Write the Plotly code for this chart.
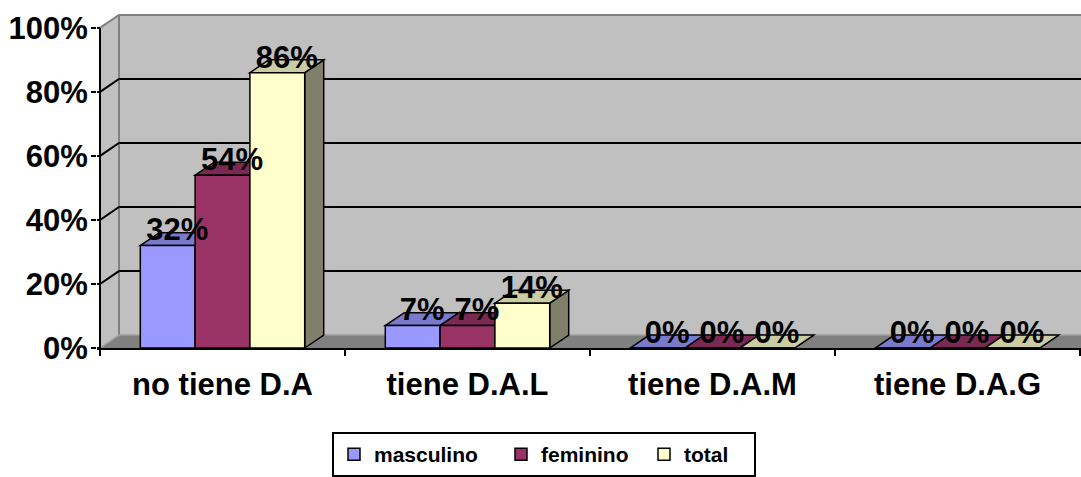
import plotly.graph_objects as go

categories = ["no tiene D.A", "tiene D.A.L", "tiene D.A.M", "tiene D.A.G"]
series_names = ["masculino", "feminino", "total"]
masculino = [0.32, 0.07, 0.0, 0.0]
feminino = [0.54, 0.07, 0.0, 0.0]
total = [0.86, 0.14, 0.0, 0.0]
y_ticks = [0, 0.2, 0.4, 0.6, 0.8, 1.0]
y_tick_labels = ["0%", "20%", "40%", "60%", "80%", "100%"]

series_values = [masculino, feminino, total]
front_colors = ["#9999FF", "#993366", "#FFFFCC"]
top_colors = ["#7A7ACC", "#7A2952", "#CCCCA3"]
side_colors = ["#5C5C99", "#5C1F3D", "#80806A"]
legend_widths = [122, 98, 65]

FONT = "Liberation Sans, Arial, sans-serif"
W, H = 1081, 477
ML, MR, MT, MB = 97, 0, 14, 127
PX_PER_X = 245.0
PX_PER_Y = 322.0
X0 = -(100 - ML) / PX_PER_X
X1 = X0 + (W - ML - MR) / PX_PER_X
YTOP = (H - MB - MT) / PX_PER_Y
DX = 19 / PX_PER_X
DY = 13 / PX_PER_Y
BARGAP = 0.329
BW = (1 - BARGAP) / 3
XFAR = X1 + 1

centers = [i + 0.5 for i in range(len(categories))]

fig = go.Figure()
for s, name in enumerate(series_names):
    fig.add_trace(go.Bar(
        x=centers, y=series_values[s], name=name,
        marker=dict(color=front_colors[s], line=dict(color="black", width=1.5)),
        legendwidth=legend_widths[s],
        hoverinfo="skip",
    ))

shapes = []
def path(pts):
    return "M " + " L ".join(f"{x},{y}" for x, y in pts) + " Z"
def line(pts):
    return "M " + " L ".join(f"{x},{y}" for x, y in pts)

# walls
shapes.append(dict(type="path", layer="below", xref="x", yref="y",
                   path=path([(DX, DY), (XFAR, DY), (XFAR, 1 + DY), (DX, 1 + DY)]),
                   fillcolor="#C0C0C0", line=dict(width=0)))
shapes.append(dict(type="path", layer="below", xref="x", yref="y",
                   path=path([(0, 0), (XFAR, 0), (XFAR + DX, DY), (DX, DY)]),
                   fillcolor="#808080", line=dict(width=0)))
shapes.append(dict(type="path", layer="below", xref="x", yref="y",
                   path=path([(0, 0), (DX, DY), (DX, 1 + DY), (0, 1)]),
                   fillcolor="#C0C0C0", line=dict(width=0)))
shapes.append(dict(type="path", layer="below", xref="x", yref="y",
                   path=line([(DX, DY), (DX, 1 + DY)]), line=dict(color="#808080", width=2)))
shapes.append(dict(type="path", layer="below", xref="x", yref="y",
                   path=line([(0, 1), (DX, 1 + DY), (XFAR, 1 + DY)]), line=dict(color="#808080", width=2)))
shapes.append(dict(type="path", layer="below", xref="x", yref="y",
                   path=line([(0, 0), (DX, DY), (XFAR, DY)]), line=dict(color="#A0A0A0", width=1.5)))
for v in y_ticks:
    if 0 < v < 1:
        shapes.append(dict(type="path", layer="below", xref="x", yref="y",
                           path=line([(X0, v), (0, v), (DX, v + DY), (XFAR, v + DY)]),
                           line=dict(color="black", width=2)))
    else:
        shapes.append(dict(type="path", layer="below", xref="x", yref="y",
                           path=line([(X0, v), (0, v)]), line=dict(color="black", width=2)))
shapes.append(dict(type="path", layer="below", xref="x", yref="y",
                   path=line([(0, 0), (0, 1)]), line=dict(color="black", width=2)))

# bar depth faces
for c in range(len(categories)):
    for s in range(3):
        v = series_values[s][c]
        xl = centers[c] - 1.5 * BW + s * BW
        xr = xl + BW
        shapes.append(dict(type="path", layer="below", xref="x", yref="y",
                           path=path([(xr, 0), (xr, v), (xr + DX, v + DY), (xr + DX, DY)]),
                           fillcolor=side_colors[s], line=dict(color="black", width=1.5)))
        shapes.append(dict(type="path", layer="below", xref="x", yref="y",
                           path=path([(xl, v), (xr, v), (xr + DX, v + DY), (xl + DX, v + DY)]),
                           fillcolor=top_colors[s], line=dict(color="black", width=1.5)))

# value labels
for s in range(3):
    xs = [centers[c] - BW + s * BW + DX / 2 for c in range(len(categories))]
    ys = [v + DY for v in series_values[s]]
    fig.add_trace(go.Scatter(
        x=xs, y=ys, mode="text", text=[f"{round(v*100)}%" for v in series_values[s]],
        textposition="middle center",
        textfont=dict(family=FONT, size=31, color="black", weight="bold"),
        showlegend=False, cliponaxis=False, hoverinfo="skip",
    ))

fig.update_layout(
    width=W, height=H, autosize=False,
    margin=dict(l=ML, r=MR, t=MT, b=MB, pad=0),
    paper_bgcolor="white", plot_bgcolor="white",
    barmode="group", bargap=BARGAP, bargroupgap=0,
    shapes=shapes,
    showlegend=True,
    legend=dict(orientation="h", x=(332 - ML) / (W - ML - MR), y=-(435 - (H - MB)) / (H - MB - MT),
                xanchor="left", yanchor="top",
                bordercolor="black", borderwidth=2, bgcolor="white",
                font=dict(family=FONT, size=21, color="black", weight="bold"),
                traceorder="normal"),
    xaxis=dict(range=[X0, X1], tickvals=centers, ticktext=categories, ticks="",
               showline=True, linecolor="black", linewidth=2, showgrid=False, zeroline=False,
               tickfont=dict(family=FONT, size=31, color="black", weight="bold"),
               ticklabelstandoff=8,
               minor=dict(tickvals=[0, 1, 2, 3, 4], ticks="outside", ticklen=6,
                          tickwidth=2, tickcolor="black", showgrid=False)),
    yaxis=dict(range=[0, YTOP], tickvals=y_ticks, ticktext=y_tick_labels,
               ticks="outside", ticklen=5, tickwidth=2, tickcolor="black",
               ticklabelstandoff=-3,
               showline=False, showgrid=False, zeroline=False,
               tickfont=dict(family=FONT, size=31, color="black", weight="bold")),
)

fig.write_html("out.html", config={"displayModeBar": False},
               post_script="document.body.style.margin='0px';")
